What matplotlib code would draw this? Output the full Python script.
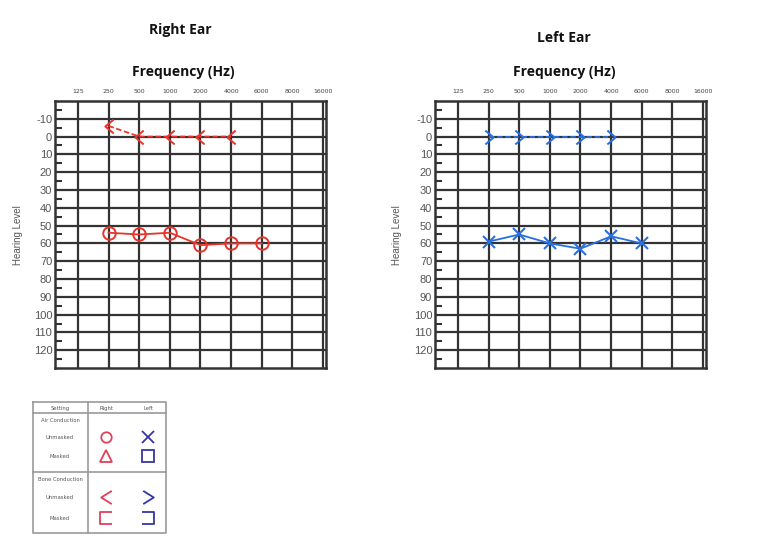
import matplotlib
matplotlib.use("Agg")
import matplotlib.pyplot as plt
from matplotlib.path import Path

plt.rcParams['axes.unicode_minus'] = False

# frequencies on the audiogram (categorical, equally spaced)
freq_labels = ['125', '250', '500', '1000', '2000', '4000', '6000', '8000', '16000']
db_ticks = list(range(-10, 130, 10))

# right ear
right_air_freq = ['250', '500', '1000', '2000', '4000', '6000']
right_air_db = [54, 55, 54, 61, 60, 60]
right_bone_freq = ['250', '500', '1000', '2000', '4000']
right_bone_db = [-6, 0, 0, 0, 0]

# left ear
left_air_freq = ['250', '500', '1000', '2000', '4000', '6000']
left_air_db = [59, 55, 60, 63, 56, 60]
left_bone_freq = ['250', '500', '1000', '2000', '4000']
left_bone_db = [0, 0, 0, 0, 0]

# legend table
legend_settings = ['Unmasked', 'Masked', 'Unmasked', 'Masked']

RED = '#e8332b'
BLUE = '#2a6fe0'
GRID = '#333333'

lt = Path([(0.6, 1), (-0.6, 0), (0.6, -1)], [Path.MOVETO, Path.LINETO, Path.LINETO])
gt = Path([(-0.6, 1), (0.6, 0), (-0.6, -1)], [Path.MOVETO, Path.LINETO, Path.LINETO])
lt_wide = Path([(0.8, 1), (-0.8, 0), (0.8, -1)], [Path.MOVETO, Path.LINETO, Path.LINETO])
gt_wide = Path([(-0.8, 1), (0.8, 0), (-0.8, -1)], [Path.MOVETO, Path.LINETO, Path.LINETO])
br_l = Path([(1, 1), (-1, 1), (-1, -1), (1, -1)],
            [Path.MOVETO, Path.LINETO, Path.LINETO, Path.LINETO])
br_r = Path([(-1, 1), (1, 1), (1, -1), (-1, -1)],
            [Path.MOVETO, Path.LINETO, Path.LINETO, Path.LINETO])


def idx(freqs):
    return [freq_labels.index(f) for f in freqs]


def audiogram(ax):
    ax.set_xlim(-0.75, 8.1)
    ax.set_ylim(130, -20)
    ax.set_xticks(range(len(freq_labels)))
    ax.set_xticklabels(freq_labels)
    ax.xaxis.tick_top()
    ax.tick_params(axis='x', length=0, pad=5, labelsize=4.5, labelcolor='#444444')
    ax.set_yticks(db_ticks)
    ax.set_yticks([v - 5 for v in db_ticks] + [125], minor=True)
    ax.tick_params(axis='y', which='major', length=0, pad=2, labelsize=8,
                   labelcolor='#555555')
    ax.tick_params(axis='y', which='minor', direction='in', length=5, width=1.5,
                   color=GRID)
    for lab in ax.get_yticklabels():
        lab.set_fontfamily('Liberation Sans')
    ax.grid(True, which='major', color=GRID, linewidth=1.6)
    for s in ax.spines.values():
        s.set_color(GRID)
        s.set_linewidth(1.8)
    ax.set_axisbelow(True)


fig = plt.figure(figsize=(7.58, 5.52), dpi=100)

axr = fig.add_axes([55 / 758, 1 - 368 / 552, 271 / 758, 267 / 552])
axl = fig.add_axes([435 / 758, 1 - 368 / 552, 271 / 758, 267 / 552])
audiogram(axr)
audiogram(axl)

axr.plot(idx(right_bone_freq), right_bone_db, color=RED, linestyle='--', linewidth=1.3,
         dashes=(3, 1.5), marker=lt, markersize=10, markerfacecolor='none',
         markeredgecolor=RED, markeredgewidth=1.4, zorder=3)
axr.plot(idx(right_air_freq), right_air_db, color=RED, linewidth=1.3,
         marker='o', markersize=9, markerfacecolor='none', markeredgecolor=RED,
         markeredgewidth=1.4, zorder=3)

axl.plot(idx(left_bone_freq), left_bone_db, color=BLUE, linestyle='--', linewidth=1.3,
         dashes=(3, 1.5), marker=gt, markersize=10, markerfacecolor='none',
         markeredgecolor=BLUE, markeredgewidth=1.4, zorder=3)
axl.plot(idx(left_air_freq), left_air_db, color=BLUE, linewidth=1.3,
         marker='x', markersize=8, markeredgecolor=BLUE,
         markeredgewidth=1.5, zorder=3)

title_kw = dict(fontsize=10, fontweight='bold', family='Open Sans', color='#111111',
                ha='center', va='center')
fig.text(180 / 758, 1 - 30 / 552, 'Right Ear', **title_kw)
fig.text(564 / 758, 1 - 38 / 552, 'Left Ear', **title_kw)
fig.text(183 / 758, 1 - 72 / 552, 'Frequency (Hz)', **title_kw)
fig.text(564 / 758, 1 - 72 / 552, 'Frequency (Hz)', **title_kw)

ylab_kw = dict(fontsize=7, rotation=90, color='#555555', family='Liberation Sans',
               ha='center', va='center')
fig.text(18 / 758, 1 - 235 / 552, 'Hearing Level', **ylab_kw)
fig.text(397 / 758, 1 - 235 / 552, 'Hearing Level', **ylab_kw)

# symbol key table (pixel coordinates inside its own axes)
axk = fig.add_axes([33 / 758, 1 - 533 / 552, 133 / 758, 131 / 552])
axk.set_xlim(33, 166)
axk.set_ylim(533, 402)
axk.axis('off')
border = '#9a9a9a'
line_kw = dict(color=border, lw=1.2, clip_on=False)
axk.plot([33, 166, 166, 33, 33], [402, 402, 533, 533, 402], **line_kw)
axk.plot([88, 88], [402, 533], **line_kw)
axk.plot([33, 166], [413, 413], **line_kw)
axk.plot([33, 166], [472, 472], **line_kw)
txt = dict(fontsize=3.8, color='#555555', ha='center', va='center')
axk.text(60, 408, 'Setting', **txt)
axk.text(106, 408, 'Right', **txt)
axk.text(148, 408, 'Left', **txt)
axk.text(60, 420, 'Air Conduction', **txt)
axk.text(60, 479, 'Bone Conduction', **txt)
row_y = [437, 456, 497, 518]
for y, name in zip(row_y, legend_settings):
    axk.text(60, y, name, **txt)

KRED = '#e0405a'
KBLUE = '#3535a5'
right_syms = [('o', 7.5), ('^', 9), (lt_wide, 9.5), (br_l, 8.5)]
left_syms = [('x', 8.5), ('s', 8.5), (gt_wide, 9.5), (br_r, 8.5)]
for y, (ms, sz) in zip(row_y, right_syms):
    axk.plot([106], [y], marker=ms, markersize=sz, markerfacecolor='none',
             markeredgecolor=KRED, markeredgewidth=1.3, linestyle='none')
for y, (ms, sz) in zip(row_y, left_syms):
    axk.plot([148], [y], marker=ms, markersize=sz, markerfacecolor='none',
             markeredgecolor=KBLUE, markeredgewidth=1.3, linestyle='none')

fig.savefig('out.png', dpi=100)
